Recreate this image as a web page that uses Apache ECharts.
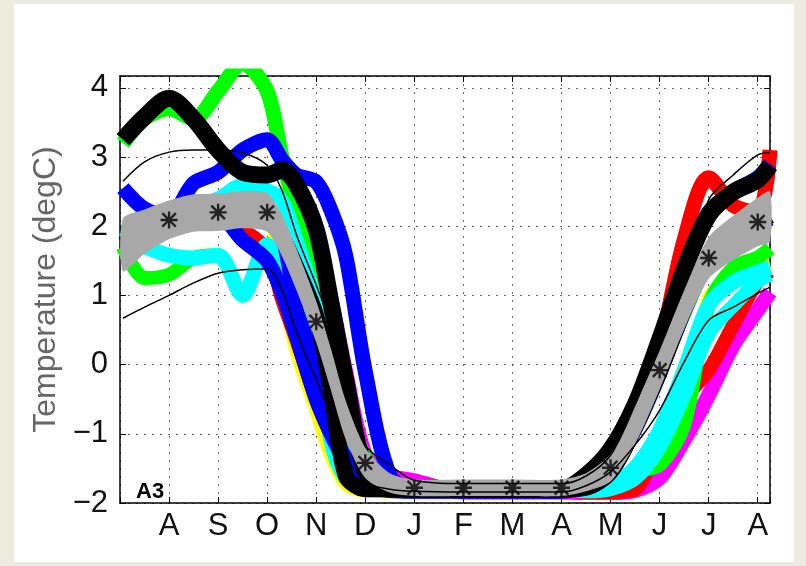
<!DOCTYPE html>
<html>
<head>
<meta charset="utf-8">
<script src="https://cdn.jsdelivr.net/npm/echarts@6/dist/echarts.min.js"></script>
<style>
  html, body { margin: 0; padding: 0; background: #ecebe0; }
  #card { position: absolute; left: 14px; top: 4px; width: 780px; height: 558px; background: #fff; }
  #chart { position: absolute; left: 0; top: 0; width: 806px; height: 566px; }
</style>
</head>
<body>
<div id="card"></div>
<div id="chart"></div>
<script>
// month index: 1 = Aug, 2 = Sep ... 13 = Aug of next year
const monthLabels = ['', 'A', 'S', 'O', 'N', 'D', 'J', 'F', 'M', 'A', 'M', 'J', 'J', 'A'];
const xs = [0.06, 0.5, 1, 1.5, 2, 2.5, 3, 3.3, 3.6, 4, 4.3, 4.6, 5, 5.5, 6, 7, 8, 9, 9.5, 10, 10.5, 11, 11.5, 12, 12.5, 13, 13.25];

// mean of all years and its spread (grey band)
const meanTemp   = [1.73, 1.92, 2.09, 2.19, 2.2, 2.24, 2.2, 1.87, 1.37, 0.62, -0.07, -0.8, -1.42, -1.71, -1.78, -1.78, -1.78, -1.78, -1.7, -1.49, -0.87, -0.08, 0.79, 1.54, 1.83, 2.06, 2.14];
const meanSpread = [0.38, 0.32, 0.28, 0.27, 0.27, 0.27, 0.28, 0.3, 0.3, 0.3, 0.3, 0.28, 0.22, 0.14, 0.12, 0.12, 0.12, 0.12, 0.13, 0.2, 0.28, 0.28, 0.28, 0.3, 0.32, 0.35, 0.36];
const upperThin  = [2.65, 2.93, 3.07, 3.1, 3.1, 3.06, 2.88, 2.52, 1.87, 1.15, 0.57, -0.08, -1.16, -1.45, -1.67, -1.72, -1.72, -1.72, -1.61, -1.31, -0.58, 0.28, 1.15, 2.38, 2.74, 3.03, 3.06];
const lowerThin  = [0.67, 0.83, 1.0, 1.18, 1.32, 1.37, 1.38, 1.08, 0.46, -0.22, -0.73, -1.31, -1.7, -1.8, -1.83, -1.84, -1.84, -1.84, -1.75, -1.55, -1.16, -0.66, 0.04, 0.64, 0.83, 1.03, 1.12];

// single years
const yellowA  = [1.73, 1.92, 2.09, 2.19, 2.2, 2.24, 2.2, 1.2, 0.2, -0.65, -1.3, -1.72, -1.82, -1.83, -1.83, -1.83, -1.83, -1.83, -1.83, -1.82, -1.75, -1.64, -0.8, 0.95, 1.25, 1.4, 1.45];
const magentaA = [3.25, 3.58, 3.85, 3.55, 3.1, 2.78, 2.74, 2.81, 2.6, 1.9, 0.95, -0.1, -1.3, -1.6, -1.68, -1.84, -1.84, -1.84, -1.85, -1.85, -1.82, -1.64, -1.09, -0.44, 0.28, 0.79, 1.05];
const redB     = [1.75, 1.9, 2.05, 2.15, 2.1, 1.95, 1.65, 0.95, 0.35, -0.5, -1.0, -1.4, -1.72, -1.8, -1.8, -1.8, -1.8, -1.8, -1.84, -1.84, -1.8, -1.1, -0.5, -0.08, 0.57, 1.2, 1.35];
const redA     = [1.73, 1.92, 2.09, 2.19, 2.2, 2.24, 2.2, 1.87, 1.37, 0.62, -0.07, -0.8, -1.42, -1.71, -1.8, -1.8, -1.8, -1.8, -1.75, -1.55, -0.9, 0.21, 1.8, 2.7, 2.3, 2.2, 3.1];
const greenB   = [1.7, 1.25, 1.3, 1.54, 1.58, 1.0, 1.73, 1.47, 1.0, 0.28, -1.09, -1.64, -1.8, -1.8, -1.8, -1.8, -1.8, -1.8, -1.82, -1.75, -1.55, -1.45, -0.87, 0.86, 1.4, 1.55, 1.68];
const greenA   = [3.2, 3.55, 3.7, 3.55, 3.95, 4.35, 3.95, 3.0, 2.2, 1.2, 0.3, -0.6, -1.35, -1.75, -1.8, -1.8, -1.8, -1.8, -1.72, -1.5, -0.9, -0.1, 0.75, 1.5, 1.8, 2.05, 2.12];
const cyanA    = [1.75, 1.7, 1.58, 1.54, 1.58, 1.0, 1.73, 1.47, 1.0, 0.28, -1.09, -1.64, -1.8, -1.8, -1.8, -1.8, -1.8, -1.8, -1.82, -1.74, -1.49, -0.95, -0.08, 0.86, 1.19, 1.34, 1.4];
const cyanB    = [1.8, 2.0, 2.2, 2.3, 2.4, 2.6, 2.52, 2.38, 1.8, 0.9, 0.0, -0.9, -1.55, -1.78, -1.8, -1.8, -1.8, -1.8, -1.83, -1.8, -1.65, -1.2, -0.45, 0.45, 0.85, 1.2, 1.3];
const blueC    = [1.73, 1.92, 2.09, 2.19, 2.2, 2.24, 2.2, 1.87, 0.8, 0.0, -0.8, -1.35, -1.72, -1.82, -1.83, -1.83, -1.83, -1.83, -1.78, -1.55, -0.95, -0.15, 0.75, 1.5, 1.8, 2.0, 2.1];
const blueB    = [1.9, 2.0, 2.1, 2.15, 2.15, 1.8, 1.5, 1.05, 0.4, -0.5, -1.0, -1.4, -1.72, -1.82, -1.83, -1.83, -1.83, -1.83, -1.7, -1.4, -0.75, 0.3, 1.4, 2.2, 2.5, 2.7, 2.9];
const blueA    = [2.55, 2.25, 2.15, 2.62, 2.78, 3.1, 3.25, 2.96, 2.74, 2.64, 2.23, 1.58, -0.1, -1.6, -1.8, -1.8, -1.8, -1.8, -1.6, -1.23, -0.58, 0.36, 1.37, 2.16, 2.49, 2.67, 2.88];
const blackB   = [1.73, 1.92, 2.09, 2.19, 2.2, 2.24, 2.2, 1.85, 1.4, 0.7, -0.35, -1.6, -1.8, -1.8, -1.8, -1.8, -1.8, -1.8, -1.78, -1.55, -0.9, -0.1, 0.8, 1.55, 1.85, 2.05, 2.15];
const blackA   = [3.25, 3.58, 3.85, 3.55, 3.1, 2.78, 2.74, 2.81, 2.6, 1.95, 0.89, -0.22, -1.52, -1.77, -1.8, -1.8, -1.8, -1.8, -1.6, -1.23, -0.58, 0.36, 1.37, 2.16, 2.49, 2.67, 2.88];

const pairs = ys => xs.map((x, i) => [x, ys[i]]);

function thick(name, color, ys, width) {
  return {
    name: name,
    type: 'line',
    data: pairs(ys),
    symbol: 'none',
    smooth: 0.3,
    silent: true,
    z: 1,
    lineStyle: { color: color, width: width, cap: 'butt', join: 'round' }
  };
}

function thin(name, ys) {
  return {
    name: name,
    type: 'line',
    data: pairs(ys),
    symbol: 'none',
    smooth: 0.3,
    silent: true,
    z: 4,
    lineStyle: { color: '#000', width: 1.5 }
  };
}

// grey band: mean +/- spread, drawn as one polygon through the axis scales
function renderBand(params, api) {
  if (params.dataIndex !== 0) return;
  const upper = xs.map((x, i) => api.coord([x, meanTemp[i] + meanSpread[i]]));
  const lower = xs.map((x, i) => api.coord([x, meanTemp[i] - meanSpread[i]])).reverse();
  return {
    type: 'polygon',
    shape: { points: upper.concat(lower), smooth: 0.25 },
    style: { fill: '#a8a8a8' }
  };
}

const asterisk = 'path://M8.6 0H11.4V20H8.6Z M0 8.6H20V11.4H0Z ' +
  'M3 1L19 17L17 19L1 3Z M17 1L19 3L3 19L1 17Z';

const font = 'Liberation Sans';
const gridLine = { show: true, lineStyle: { color: '#666', type: [2, 6], width: 1 } };
const frame = { show: true, onZero: false, lineStyle: { color: '#000', width: 1.5 } };
const ticks = { show: true, inside: true, length: 6, lineStyle: { color: '#000' } };

const chart = echarts.init(document.getElementById('chart'));
const option = {
  animation: false,
  title: {
    text: 'A3',
    left: 131,
    top: 476,
    textStyle: { fontSize: 22, fontWeight: 'bold', color: '#000', fontFamily: font }
  },
  grid: { left: 120, right: 36, top: 76, bottom: 63 },
  xAxis: [
    {
      type: 'value', min: 0, max: 13.25, interval: 1, position: 'bottom',
      axisLine: frame, axisTick: ticks, splitLine: gridLine,
      axisLabel: {
        fontSize: 31, color: '#111', margin: 8, fontFamily: font,
        formatter: v => monthLabels[v] || ''
      }
    },
    {
      type: 'value', min: 0, max: 13.25, interval: 1, position: 'top',
      axisLine: frame, axisTick: ticks, splitLine: { show: false }, axisLabel: { show: false }
    }
  ],
  yAxis: [
    {
      type: 'value', min: -2, max: 4.17, interval: 1, position: 'left',
      axisLine: frame, axisTick: ticks, splitLine: gridLine,
      axisLabel: {
        fontSize: 31, color: '#111', margin: 12, fontFamily: font,
        formatter: v => Number.isInteger(v) ? (v < 0 ? '\u2212' + (-v) : String(v)) : ''
      },
      name: 'Temperature (degC)',
      nameLocation: 'middle',
      nameGap: 56,
      nameTextStyle: { fontSize: 32, color: '#666', fontFamily: font }
    },
    {
      type: 'value', min: -2, max: 4.17, interval: 1, position: 'right',
      axisLine: frame, axisTick: ticks, splitLine: { show: false }, axisLabel: { show: false }
    }
  ],
  series: [
    thick('yellow', '#ffff00', yellowA, 14),
    thick('magenta', '#ff00ff', magentaA, 15),
    thick('red 2', '#ff0000', redB, 14),
    thick('red 1', '#ff0000', redA, 15),
    thick('green 2', '#00ff00', greenB, 14),
    thick('green 1', '#00ff00', greenA, 15),
    thick('cyan 1', '#00ffff', cyanA, 15),
    thick('cyan 2', '#00ffff', cyanB, 14),
    thick('blue 3', '#0000ff', blueC, 14),
    thick('blue 2', '#0000ff', blueB, 15),
    thick('blue 1', '#0000ff', blueA, 15),
    thick('black 2', '#000000', blackB, 16),
    thick('black 1', '#000000', blackA, 17),
    {
      name: 'mean band',
      type: 'custom',
      renderItem: renderBand,
      data: xs.map((x, i) => [x, meanTemp[i], meanSpread[i]]),
      encode: { x: 0, y: 1 },
      silent: true,
      z: 3
    },
    thin('upper', upperThin),
    thin('lower', lowerThin),
    {
      name: 'monthly mean',
      type: 'scatter',
      data: pairs(meanTemp).filter(p => Number.isInteger(p[0])),
      symbol: asterisk,
      symbolSize: 17,
      silent: true,
      z: 6,
      itemStyle: { color: '#000' }
    }
  ]
};
chart.setOption(option);
</script>
</body>
</html>
